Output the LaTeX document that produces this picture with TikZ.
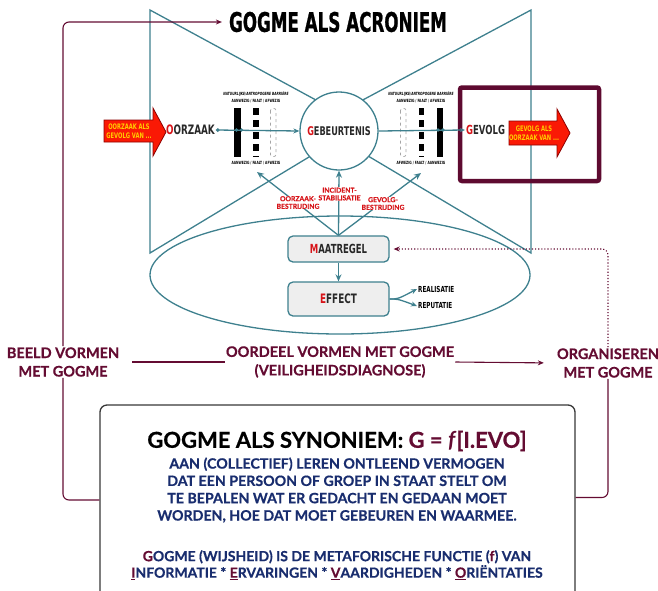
\documentclass[tikz,border=0pt]{standalone}
\usepackage{fontspec}
\setmainfont{Lato}[BoldFeatures={FakeBold=0.6}]
\newfontfamily\imp[FakeStretch=0.68]{DejaVu Sans}
\newfontfamily\impt[FakeStretch=0.62,BoldFeatures={FakeBold=0.8}]{DejaVu Sans}
\usetikzlibrary{arrows.meta,calc}
\definecolor{teal1}{RGB}{62,128,142}
\definecolor{maroon1}{RGB}{100,12,50}
\definecolor{boxmaroon}{RGB}{94,10,48}
\definecolor{navy1}{RGB}{25,45,110}
\definecolor{red1}{RGB}{215,20,25}
\definecolor{darktxt}{RGB}{40,40,40}
\definecolor{arrred}{RGB}{250,25,5}
\definecolor{arryellow}{RGB}{255,205,0}
\definecolor{boxgray}{RGB}{238,238,238}
\definecolor{frame1}{RGB}{55,55,55}
\begin{document}
\begin{tikzpicture}[x=1pt,y=-1pt,
  tline/.style={draw=teal1, line width=1.3pt},
  tarrow/.style={draw=teal1, line width=1.3pt, -{Stealth[length=7pt,width=6pt]}},
  mline/.style={draw=maroon1, line width=1.1pt},
  imptext/.style={font=\imp\bfseries\fontsize{#1}{#1}\selectfont, text=darktxt, inner sep=1pt},
  tinytext/.style={font=\imp\bfseries\fontsize{4.3}{5}\selectfont, text=black, inner sep=0pt},
  redlab/.style={font=\bfseries\fontsize{6.8}{7.6}\selectfont, text=red1, align=center, fill=white, inner sep=0.6pt},
  gbox/.style={draw=teal1, line width=1.3pt, fill=boxgray, rounded corners=5pt, minimum width=101pt, inner sep=0pt},
  mlab/.style={font=\bfseries\fontsize{14.5}{18.5}\selectfont, text=maroon1, align=center, inner sep=1pt},
  redarrow/.style={draw=red!55!black, fill=arrred, line width=0.8pt, line join=miter},
  arrtext/.style={font=\imp\bfseries\fontsize{7.6}{9.5}\selectfont, text=arryellow, align=center, inner sep=0pt},
  solidbar/.style={fill=black},
  dashbar/.style={draw=black, line width=5.5pt, dash pattern=on 7pt off 5pt},
  ghostbar/.style={draw=gray!70, line width=0.7pt, dashed, rounded corners=2pt}
]
\useasboundingbox (0,0) rectangle (658,590);
\clip (0,0) rectangle (658,590);

% title
\node[font=\impt\bfseries\fontsize{27}{27}\selectfont, text=black, inner sep=1pt] (title) at (338,22) {GOGME ALS ACRONIEM};

% bow-tie
\draw[tline, line join=miter] (362,125) -- (150,10) -- (150,253) -- (362,125);
\draw[tline, line join=miter] (316,125) -- (531,10) -- (531,253) -- (316,125);

% ellipse
\draw[tline] (340,275) ellipse [x radius=190pt, y radius=59pt];

% circle
\node[circle, draw=teal1, line width=1.3pt, fill=white, minimum size=78pt, inner sep=0pt, imptext=12] (geb) at (339,131) {\textcolor{red1}{G}EBEURTENIS};

% maroon frame round GEVOLG
\draw[draw=boxmaroon, line width=4.5pt, rounded corners=2pt] (460,87.5) rectangle (599,181);

% red arrows
\draw[redarrow] (104,120) -- (153,120) -- (153,108) -- (166,132) -- (153,156) -- (153,142) -- (104,142) -- cycle;
\node[arrtext] (larr) at (129,131) {OORZAAK ALS\\GEVOLG VAN ...};
\draw[redarrow] (509,121) -- (557,121) -- (557,109) -- (570,133) -- (557,157) -- (557,145) -- (509,145) -- cycle;
\node[arrtext] (rarr) at (534,133) {GEVOLG ALS\\OORZAAK VAN ...};

% main texts
\node[imptext=13, anchor=east] (oorz) at (216,130) {\textcolor{red1}{O}ORZAAK};
\node[imptext=12.5, anchor=west] (gev) at (465,130) {\textcolor{red1}{G}EVOLG};

% barriers left
\fill[solidbar] (234,108) rectangle (240.5,157);
\draw[dashbar] (256,108) -- (256,157);
\draw[ghostbar] (270.5,108.5) rectangle (276,156.5);
% barriers right
\draw[ghostbar] (400.5,108.5) rectangle (406,156.5);
\draw[dashbar] (421.5,108) -- (421.5,157);
\fill[solidbar] (437,108) rectangle (443,157);

% tiny labels
\node[tinytext, font=\imp\bfseries\itshape\fontsize{4.3}{5}\selectfont] (lb1) at (256,94) {NATUURLIJKE/ANTROPOGENE BARRIÈRE};
\node[tinytext] (lb2) at (256,101) {AANWEZIG / FAALT / AFWEZIG};
\node[tinytext] (lb3) at (256,163.5) {AANWEZIG / FAALT / AFWEZIG};
\node[tinytext, font=\imp\bfseries\itshape\fontsize{4.3}{5}\selectfont] (rb1) at (421,94) {NATUURLIJKE/ANTROPOGENE BARRIÈRE};
\node[tinytext] (rb2) at (421,101) {AANWEZIG / FAALT / AFWEZIG};
\node[tinytext] (rb3) at (421,163.5) {AFWEZIG / FAALT / AANWEZIG};

% horizontal connectors through the barriers
\draw[teal1, line width=1.3pt, {Circle[length=3.5pt]}-{Stealth[length=6pt,width=5pt]}] (oorz.east) -- (geb.west);
\fill[teal1] (236.5,130) circle (1.8pt) (241.5,130) circle (1.8pt);
\draw[teal1, line width=1.3pt, -{Stealth[length=5pt,width=4pt]}] (geb.east) -- (gev.west);
\fill[teal1] (438,130) circle (1.8pt) (443,130) circle (1.8pt);

% measures
\node[gbox, minimum height=26pt, imptext=12.5] (maat) at (338.5,249) {\textcolor{red1}{M}AATREGEL};
\node[gbox, minimum height=34pt, imptext=13] (eff) at (338.5,299) {\textcolor{red1}{E}FFECT};
\coordinate (tl) at (257,172);
\coordinate (tr) at (421,173);
\draw[tarrow] (maat.north) -- (tl);
\draw[tarrow] (maat.north) -- (geb.south);
\draw[tarrow] (maat.north) -- (tr);
\draw[tarrow] (maat.south) -- (eff.north);
\node[imptext=8.3, text=black, anchor=west] (real) at (417,289) {REALISATIE};
\node[imptext=8.3, text=black, anchor=west] (rep) at (417,306) {REPUTATIE};
\draw[teal1, line width=1.3pt, -{Stealth[length=6pt,width=5pt]}] (eff.east) .. controls (398,299) .. (real.west);
\draw[teal1, line width=1.3pt, -{Stealth[length=6pt,width=5pt]}] (eff.east) .. controls (398,299) .. (rep.west);

% red labels
\node[redlab] (lab1) at (298,202.5) {OORZAAK-\\BESTRIJDING};
\node[redlab] (lab2) at (339.5,194) {INCIDENT-\\STABILISATIE};
\node[redlab] (lab3) at (383,203.5) {GEVOLG-\\BESTRIJDING};

% maroon row
\node[mlab] (beeld) at (63,362) {BEELD VORMEN\\MET GOGME};
\node[mlab] (oordeel) at (340,362) {OORDEEL VORMEN MET GOGME\\(VEILIGHEIDSDIAGNOSE)};
\node[mlab] (org) at (608,363) {ORGANISEREN\\MET GOGME};
\draw[mline] ([xshift=12pt]beeld.east) -- (oordeel.west);
\draw[mline, -{Stealth[length=6pt,width=5pt]}, shorten >=12pt] (oordeel.east) -- (org.west);

% synonym box
\node[draw=frame1, line width=1.3pt, rounded corners=7pt, minimum width=475pt, minimum height=215pt] (synbox) at (337.5,512.5) {};
\node[font=\bfseries\fontsize{22}{24}\selectfont, text=black, inner sep=0pt] (syntitle) at (337,441) {GOGME ALS SYNONIEM: \textcolor{maroon1}{G = \textit{f}[I.EVO]}};
\node[font=\bfseries\fontsize{14.2}{17.3}\selectfont, text=navy1, align=center, inner sep=0pt] (syndef) at (337,490) {AAN (COLLECTIEF) LEREN ONTLEEND VERMOGEN\\DAT EEN PERSOON OF GROEP IN STAAT STELT OM\\TE BEPALEN WAT ER GEDACHT EN GEDAAN MOET\\WORDEN, HOE DAT MOET GEBEUREN EN WAARMEE.};
\node[font=\bfseries\fontsize{14}{16.5}\selectfont, text=navy1, align=center, inner sep=0pt] (synfun) at (337,565) {\textcolor{maroon1}{G}OGME (WIJSHEID) IS DE METAFORISCHE FUNCTIE (\textcolor{maroon1}{f}) VAN\\\textcolor{maroon1}{\underline{I}}NFORMATIE * \textcolor{maroon1}{\underline{E}}RVARINGEN * \textcolor{maroon1}{\underline{V}}AARDIGHEDEN * \textcolor{maroon1}{\underline{O}}RIËNTATIES};

% maroon side connectors
\draw[mline, rounded corners=6pt, -{Stealth[length=6pt,width=5pt]}, shorten >=6pt] (beeld.north) |- (title.west);
\draw[mline, rounded corners=6pt] (beeld.south) |- ([yshift=12.5pt]synbox.west);
\draw[mline, rounded corners=6pt] (org.south) |- ([yshift=15pt]synbox.east);
\draw[mline, dotted, rounded corners=6pt, -{Stealth[length=6pt,width=5pt]}, shorten >=4pt] (org.north) |- (maat.east);
\end{tikzpicture}
\end{document}
